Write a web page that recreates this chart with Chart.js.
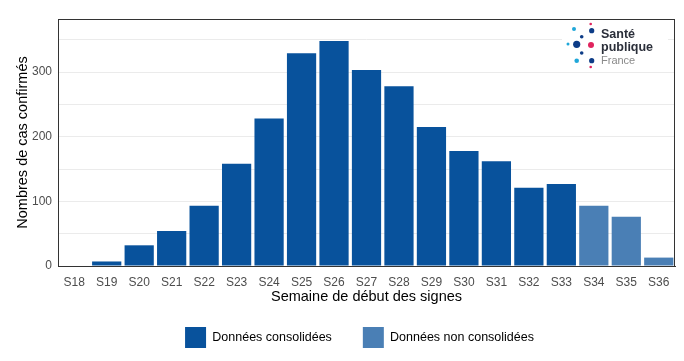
<!DOCTYPE html>
<html>
<head>
<meta charset="utf-8">
<script src="https://cdn.jsdelivr.net/npm/chart.js@4"></script>
<style>
  body { margin: 0; background: #fff; }
  #wrap { width: 684px; height: 361px; }
</style>
</head>
<body>
<div id="wrap"><canvas id="grafico" width="684" height="361"></canvas></div>
<script>
const semaines = ["S18","S19","S20","S21","S22","S23","S24","S25","S26","S27","S28","S29","S30","S31","S32","S33","S34","S35","S36"]
const consolidees = [0, 7, 32, 54, 93, 158, 228, 329, 348, 303, 278, 215, 178, 162, 121, 127, null, null, null]
const nonConsolidees = [null, null, null, null, null, null, null, null, null, null, null, null, null, null, null, null, 93, 76, 13]
const yTicks = [0, 50, 100, 150, 200, 250, 300, 350]

const police = "'Liberation Sans', Arial, sans-serif"

// cadre autour du panneau
const cadre = {
  id: 'cadre',
  afterDraw(chart) {
    const { ctx, chartArea: a } = chart
    ctx.save()
    ctx.strokeStyle = '#333333'
    ctx.lineWidth = 1
    ctx.strokeRect(Math.round(a.left) + 0.5, Math.round(a.top) + 0.5, Math.round(a.right - a.left) - 1, Math.round(a.bottom - a.top))
    ctx.restore()
  }
}

// décale la légende pour la centrer comme l'original
const decaleLegende = {
  id: 'decaleLegende',
  afterLayout(chart) {
    if (chart.legend) chart.legend.left += 34
  }
}

// logo Santé publique France
const logo = {
  id: 'logo',
  afterDatasetsDraw(chart) {
    const ctx = chart.ctx
    ctx.save()
    ctx.fillStyle = '#fff'
    ctx.fillRect(562, 21, 106, 47)
    const points = [
      [590.7, 24, 1.3, '#e0245e'], [574, 29, 2, '#1fa7d9'], [591.7, 30.7, 2.6, '#0d3c87'],
      [581.7, 36.7, 1.8, '#0d3c87'], [568, 44, 1.5, '#1fa7d9'], [576.7, 44.3, 3.6, '#0d3c87'],
      [591, 45, 3, '#e0245e'], [581.7, 53, 1.8, '#0d3c87'], [576.7, 60.7, 2.3, '#1fa7d9'],
      [591.7, 60.7, 2.6, '#0d3c87'], [590.7, 67, 1.3, '#e0245e']
    ]
    points.forEach(p => {
      ctx.beginPath()
      ctx.fillStyle = p[3]
      ctx.arc(p[0], p[1], p[2], 0, Math.PI * 2)
      ctx.fill()
    })
    ctx.fillStyle = '#2b2f3a'
    ctx.font = 'bold 12.5px ' + police
    ctx.textBaseline = 'alphabetic'
    ctx.fillText('Santé', 601, 38)
    ctx.fillText('publique', 601, 51)
    ctx.fillStyle = '#8a8a8a'
    ctx.font = '11px ' + police
    ctx.fillText('France', 601, 64)
    ctx.restore()
  }
}

const config = {
  type: 'bar',
  data: {
    labels: semaines,
    datasets: [
      {
        label: 'Données consolidées',
        data: consolidees,
        backgroundColor: '#08529c',
        borderWidth: 0,
        barPercentage: 0.9,
        categoryPercentage: 1
      },
      {
        label: 'Données non consolidées',
        data: nonConsolidees,
        backgroundColor: '#4a7fb5',
        borderWidth: 0,
        barPercentage: 0.9,
        categoryPercentage: 1
      }
    ]
  },
  options: {
    responsive: false,
    animation: false,
    layout: { padding: { top: 19, right: 9, left: 10, bottom: 3 } },
    plugins: {
      tooltip: { enabled: false },
      legend: {
        position: 'bottom',
        labels: {
          boxWidth: 21,
          boxHeight: 21,
          padding: 31,
          color: '#000',
          font: { family: police, size: 12.5 }
        }
      }
    },
    scales: {
      x: {
        stacked: true,
        afterFit: (scale) => { scale.height = 30 },
        grid: { display: false, drawTicks: false },
        border: { display: true, color: '#333333' },
        ticks: { color: '#4d4d4d', padding: 9, font: { family: police, size: 12 } },
        title: {
          display: true,
          text: 'Semaine de début des signes',
          color: '#000',
          font: { family: police, size: 14.5 },
          padding: { top: 0, bottom: -9.5 }
        }
      },
      y: {
        stacked: true,
        min: 0,
        max: 382,
        afterBuildTicks: (scale) => { scale.ticks = yTicks.map(v => ({ value: v })) },
        afterFit: (scale) => { scale.width = 48 },
        grid: { color: '#ebebeb', drawTicks: false },
        border: { display: false },
        ticks: {
          color: '#4d4d4d',
          padding: 6,
          font: { family: police, size: 12 },
          callback: (v) => v % 100 === 0 ? v : ''
        },
        title: {
          display: true,
          text: 'Nombres de cas confirmés',
          color: '#000',
          font: { family: police, size: 14.5 },
          padding: { top: 4, bottom: 4 }
        }
      }
    }
  },
  plugins: [logo, cadre, decaleLegende]
}

const chart = new Chart(document.getElementById('grafico'), config)
</script>
</body>
</html>
